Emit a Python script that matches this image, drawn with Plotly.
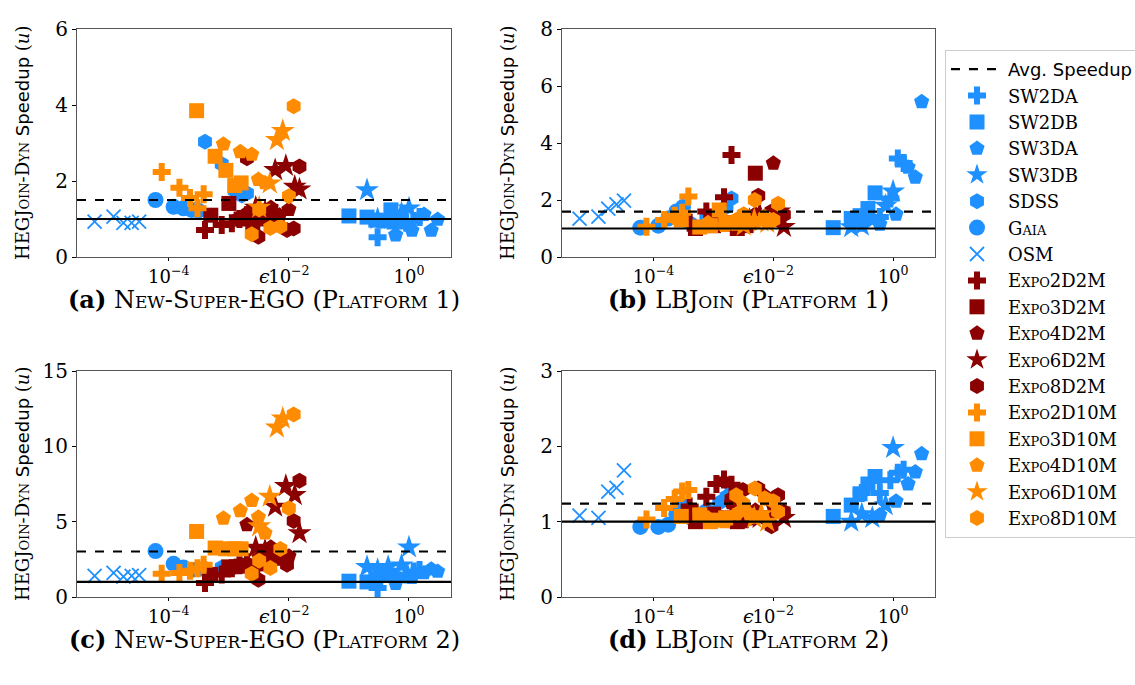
import plotly.graph_objects as go

# ---------------- data ----------------
PANEL_TITLES = ["New-Super-EGO (Platform 1)", "LBJoin (Platform 1)",
                "New-Super-EGO (Platform 2)", "LBJoin (Platform 2)"]
PANEL_LETTERS = ["(a)", "(b)", "(c)", "(d)"]
Y_MAX = [6, 8, 15, 3]
Y_TICKS = [[0, 2, 4, 6], [0, 2, 4, 6, 8], [0, 5, 10, 15], [0, 1, 2, 3]]
AVG_SPEEDUP = [1.5, 1.59, 3.02, 1.24]
X_TICKS = [1e-4, 1e-2, 1]
X_TICK_TEXT = ["10<sup>−4</sup>", "10<sup>−2</sup>", "10<sup>0</sup>"]

DATASETS = ["SW2DA", "SW2DB", "SW3DA", "SW3DB", "SDSS", "Gaia", "OSM",
            "Expo2D2M", "Expo3D2M", "Expo4D2M", "Expo6D2M", "Expo8D2M",
            "Expo2D10M", "Expo3D10M", "Expo4D10M", "Expo6D10M", "Expo8D10M"]

# epsilon values per dataset
EPS_SW2DA = [0.3, 0.6, 0.9, 1.2, 1.5]
EPS_SW2DB = [0.1, 0.2, 0.28, 0.38, 0.5]
EPS_SW3DA = [0.6, 1.12, 1.78, 2.35, 3.0]
EPS_SW3DB = [0.2, 0.3, 0.45, 0.75, 1.0]
EPS_SDSS = [4e-4, 7.6e-4, 1.25e-3, 1.65e-3, 2e-3]
EPS_GAIA = [6e-5, 1.2e-4, 1.75e-4, 2.4e-4, 3.1e-4]
EPS_OSM = [5.8e-6, 1.2e-5, 1.75e-5, 2.4e-5, 3.2e-5]
EPS_EXPO2D2M = [4e-4, 7.6e-4, 1.12e-3, 1.5e-3, 2e-3]
EPS_EXPO3D2M = [5e-4, 1e-3, 1.6e-3, 2.5e-3, 3.5e-3, 5e-3]
EPS_EXPO4D2M = [1.4e-3, 2e-3, 3.2e-3, 5e-3, 7e-3, 1e-2]
EPS_EXPO6D2M = [2.8e-3, 4e-3, 5.9e-3, 8.9e-3, 1.25e-2, 1.5e-2]
EPS_EXPO8D2M = [2e-3, 3.1e-3, 5.6e-3, 9.3e-3, 1.2e-2, 1.5e-2]
EPS_EXPO2D10M = [7.6e-5, 1.5e-4, 2.25e-4, 3e-4, 3.8e-4]
EPS_EXPO3D10M = [2.9e-4, 5.9e-4, 8.9e-4, 1.25e-3, 1.6e-3]
EPS_EXPO4D10M = [8.1e-4, 1.55e-3, 2.4e-3, 3.1e-3, 4e-3]
EPS_EXPO6D10M = [3.2e-3, 4.8e-3, 6.3e-3, 7.9e-3]
EPS_EXPO8D10M = [2.4e-3, 3.2e-3, 4.9e-3, 7.2e-3, 1e-2, 1.2e-2]

# speedups: one list per panel (a, b, c, d)
SPD_SW2DA = [[0.52, 0.8, 0.9, 0.95, 1.05], [1.2, 1.4, 2.05, 3.46, 3.3],
             [0.6, 1.2, 1.5, 1.7, 1.8], [1.38, 1.38, 1.55, 1.65, 1.69]]
SPD_SW2DB = [[1.08, 1.05, 0.97, 0.95, 1.24], [1.03, 1.35, 1.45, 1.7, 2.25],
             [1.05, 1.0, 1.2, 1.5, 1.45], [1.07, 1.22, 1.37, 1.5, 1.6]]
SPD_SW3DA = [[0.58, 0.7, 1.12, 0.7, 0.99], [1.15, 1.5, 3.15, 2.8, 5.45],
             [0.9, 1.3, 1.6, 1.85, 1.7], [1.09, 1.27, 1.5, 1.66, 1.9]]
SPD_SW3DB = [[1.76, 1.0, 1.0, 1.15, 1.28], [1.05, 1.1, 1.3, 1.8, 2.3],
             [2.0, 1.8, 2.0, 2.1, 3.3], [1.0, 1.1, 1.05, 1.22, 1.98]]
SPD_SDSS = [[3.03, 2.45, 1.75, 1.62, 1.68], [1.2, 1.35, 1.5, 1.75, 2.05],
            [1.9, 1.95, 2.0, 2.1, 2.0], [1.05, 1.15, 1.25, 1.33, 1.4]]
SPD_GAIA = [[1.5, 1.32, 1.28, 1.24, 1.22], [1.03, 1.1, 1.35, 1.6, 1.75],
            [3.05, 2.2, 1.95, 1.8, 1.85], [0.93, 0.93, 0.96, 1.1, 1.2]]
SPD_OSM = [[0.93, 1.06, 0.9, 0.9, 0.93], [1.35, 1.42, 1.7, 1.85, 1.98],
           [1.4, 1.6, 1.35, 1.4, 1.45], [1.08, 1.05, 1.4, 1.45, 1.68]]
SPD_EXPO2D2M = [[0.71, 0.84, 0.89, 1.0, 1.1], [1.2, 1.6, 1.4, 2.1, 3.58],
                [0.93, 1.5, 1.9, 2.1, 2.3], [1.2, 1.33, 1.5, 1.56, 1.49]]
SPD_EXPO3D2M = [[1.1, 1.41, 1.0, 0.9, 1.0, 1.2], [1.0, 1.1, 1.2, 1.0, 1.1, 2.94],
                [1.5, 2.0, 2.05, 2.0, 2.2, 2.6], [1.0, 1.1, 1.05, 1.0, 1.05, 1.1]]
SPD_EXPO4D2M = [[1.0, 1.15, 1.2, 1.3, 1.1, 1.25], [1.2, 1.1, 1.3, 1.5, 1.4, 3.29],
                [2.0, 4.79, 2.6, 3.3, 2.5, 2.7], [1.05, 1.25, 1.0, 1.15, 1.35, 1.2]]
SPD_EXPO6D2M = [[1.3, 1.2, 2.29, 2.4, 1.85, 1.78], [1.2, 1.3, 1.5, 1.4, 1.6, 1.06],
                [3.28, 3.1, 6.0, 7.37, 6.77, 4.24], [1.12, 1.1, 1.05, 1.1, 1.15, 1.05]]
SPD_EXPO8D2M = [[2.6, 0.53, 1.0, 0.71, 0.75, 2.38], [1.2, 1.3, 2.15, 1.6, 1.3, 1.48],
                [2.2, 1.15, 2.5, 2.14, 5.05, 7.72], [1.3, 1.42, 1.44, 0.94, 1.35, 1.13]]
SPD_EXPO2D10M = [[2.24, 1.82, 1.55, 1.28, 1.65], [1.06, 1.3, 1.45, 1.55, 2.12],
                 [1.54, 1.6, 1.75, 1.9, 2.14], [1.03, 1.18, 1.3, 1.4, 1.42]]
SPD_EXPO3D10M = [[3.85, 2.65, 2.28, 1.88, 1.95], [1.3, 1.05, 1.1, 1.65, 1.2],
                 [4.35, 3.25, 3.2, 3.2, 3.2], [1.07, 1.09, 1.0, 1.02, 1.05]]
SPD_EXPO4D10M = [[2.97, 2.77, 2.7, 2.04, 1.95], [1.2, 1.1, 1.15, 1.3, 1.2],
                 [5.23, 5.73, 6.4, 5.3, 4.24], [1.05, 1.0, 1.1, 1.25, 1.1]]
SPD_EXPO6D10M = [[1.3, 1.94, 3.08, 3.32], [1.1, 1.3, 1.25, 1.2],
                 [4.7, 6.66, 11.25, 11.85], [1.13, 1.05, 1.1, 1.0]]
SPD_EXPO8D10M = [[0.6, 1.25, 0.76, 0.8, 1.6, 3.97], [1.3, 1.5, 2.0, 1.4, 1.3, 1.87],
                 [1.54, 2.4, 1.92, 3.18, 5.89, 12.12], [1.35, 1.2, 1.44, 1.31, 1.27, 1.13]]

EPS = [EPS_SW2DA, EPS_SW2DB, EPS_SW3DA, EPS_SW3DB, EPS_SDSS, EPS_GAIA, EPS_OSM,
       EPS_EXPO2D2M, EPS_EXPO3D2M, EPS_EXPO4D2M, EPS_EXPO6D2M, EPS_EXPO8D2M,
       EPS_EXPO2D10M, EPS_EXPO3D10M, EPS_EXPO4D10M, EPS_EXPO6D10M, EPS_EXPO8D10M]
SPD = [SPD_SW2DA, SPD_SW2DB, SPD_SW3DA, SPD_SW3DB, SPD_SDSS, SPD_GAIA, SPD_OSM,
       SPD_EXPO2D2M, SPD_EXPO3D2M, SPD_EXPO4D2M, SPD_EXPO6D2M, SPD_EXPO8D2M,
       SPD_EXPO2D10M, SPD_EXPO3D10M, SPD_EXPO4D10M, SPD_EXPO6D10M, SPD_EXPO8D10M]

# ---------------- style ----------------
BLUE, DRED, ORANGE = "#1E90FF", "#8B0000", "#FF8C00"
COLORS = [BLUE] * 7 + [DRED] * 5 + [ORANGE] * 5
SYMBOLS = ["cross", "square", "pentagon", "star", "hexagon", "circle", "x-thin",
           "cross", "square", "pentagon", "star", "hexagon",
           "cross", "square", "pentagon", "star", "hexagon"]
SIZES = [15, 15, 16, 18, 16, 16, 14, 15, 15, 16, 18, 16, 15, 15, 16, 18, 16]
SERIF = "DejaVu Serif"
SANS = "DejaVu Sans"


def label(name):
    if name.startswith("Expo") or name == "Gaia":
        return f"<span style='font-variant:small-caps'>{name}</span>"
    return name


# panel geometry (pixels in a 1135x685 canvas)
W, H = 1135, 685
PX_X = [(77, 451), (562, 935), (77, 451), (562, 935)]
PX_Y = [(29, 257), (29, 257), (371, 597), (371, 597)]

fig = go.Figure()

# legend entry for avg line
fig.add_trace(go.Scatter(x=[None], y=[None], mode="lines",
                         name=f"<span style='font-family:{SANS}'>Avg. Speedup</span>",
                         line=dict(color="black", dash="dash", width=2.2),
                         legendrank=1, xaxis="x", yaxis="y"))

for p in range(4):
    ax = "" if p == 0 else str(p + 1)
    for i, name in enumerate(DATASETS):
        is_x = SYMBOLS[i] == "x-thin"
        marker = dict(symbol=SYMBOLS[i], size=SIZES[i], color=COLORS[i],
                      line=dict(width=1.8 if is_x else 0, color=COLORS[i]))
        fig.add_trace(go.Scatter(
            x=EPS[i], y=SPD[i][p], mode="markers", name=label(name),
            marker=marker, showlegend=(p == 0), legendrank=2 + i,
            xaxis="x" + ax, yaxis="y" + ax))

layout = dict(width=W, height=H, margin=dict(l=0, r=0, t=0, b=0, autoexpand=False),
              paper_bgcolor="white", plot_bgcolor="white",
              font=dict(family=SERIF, size=18, color="black"),
              showlegend=True)

annotations = []
shapes = []
for p in range(4):
    ax = "" if p == 0 else str(p + 1)
    x0, x1 = PX_X[p]
    y0, y1 = PX_Y[p]
    dom_x = [x0 / W, x1 / W]
    dom_y = [1 - y1 / H, 1 - y0 / H]
    layout["xaxis" + ax] = dict(
        type="log", range=[-5.53, 0.70], domain=dom_x, anchor="y" + ax,
        automargin=False,
        tickvals=X_TICKS, ticktext=X_TICK_TEXT, ticks="outside", ticklen=3,
        tickcolor="black", showgrid=False, zeroline=False, showline=True,
        linecolor="#555555", linewidth=1.2, mirror=True,
        tickfont=dict(family=SERIF, size=18))
    layout["yaxis" + ax] = dict(
        range=[0, Y_MAX[p]], domain=dom_y, anchor="x" + ax, automargin=False,
        tickvals=Y_TICKS[p], ticks="outside", ticklen=4, tickcolor="black",
        showgrid=False, zeroline=False, showline=True, linecolor="#555555",
        linewidth=1.2, mirror=True, tickfont=dict(family=SERIF, size=20))
    xr = "x" + ax + " domain"
    shapes.append(dict(type="line", xref=xr, yref="y" + ax, x0=0, x1=1,
                       y0=1, y1=1, line=dict(color="black", width=2.2), layer="above"))
    shapes.append(dict(type="line", xref=xr, yref="y" + ax, x0=0, x1=1,
                       y0=AVG_SPEEDUP[p], y1=AVG_SPEEDUP[p],
                       line=dict(color="black", width=2.2, dash="dash"), layer="above"))
    cx = (x0 + x1) / 2 / W
    # epsilon label
    annotations.append(dict(text="<i>ϵ</i>", x=cx, y=1 - (y1 + 19) / H,
                            xref="paper", yref="paper", showarrow=False,
                            font=dict(family=SERIF, size=19), borderpad=0,
                            xanchor="center", yanchor="middle"))
    # panel caption
    annotations.append(dict(
        text=f"<b>{PANEL_LETTERS[p]}</b> <span style='font-variant:small-caps'>{PANEL_TITLES[p]}</span>",
        x=cx, y=1 - (y1 + 42) / H, xref="paper", yref="paper", showarrow=False,
        font=dict(family=SERIF, size=24), borderpad=0,
        xanchor="center", yanchor="middle"))
    # y label
    annotations.append(dict(
        text="HEG<span style='font-variant:small-caps'>Join-Dyn</span> "
             f"<span style='font-family:{SANS}'>Speedup</span> (<i>u</i>)",
        x=(x0 - 55) / W, y=1 - (y0 + y1) / 2 / H, xref="paper", yref="paper",
        showarrow=False, textangle=-90, font=dict(family=SERIF, size=18),
        xanchor="center", yanchor="middle"))

layout["annotations"] = annotations
layout["shapes"] = shapes
layout["legend"] = dict(x=945 / W, y=1 - 50 / H, xanchor="left", yanchor="top",
                        bordercolor="#cccccc", borderwidth=1, bgcolor="white",
                        font=dict(family=SERIF, size=18), tracegroupgap=0,
                        itemwidth=52)
fig.update_layout(**layout)
fig.write_html("out.html", post_script="document.body.style.margin='0';",
               config={"displayModeBar": False})
